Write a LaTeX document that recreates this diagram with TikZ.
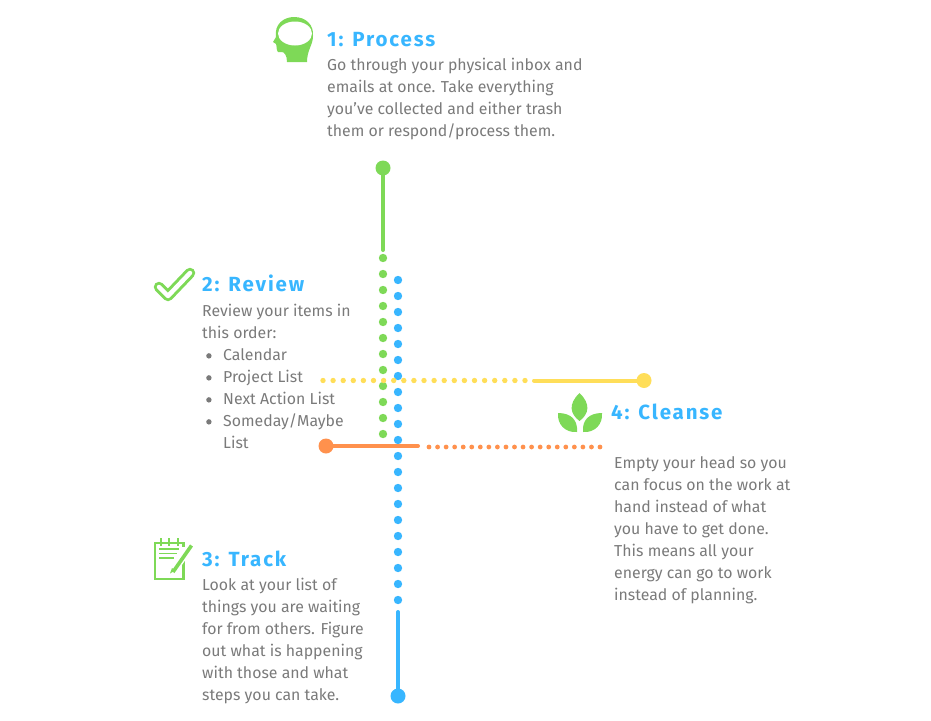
\documentclass[tikz,border=0pt]{standalone}
\usepackage{fontspec}
\setmainfont{Fira Sans}
\newfontfamily\headfont[LetterSpace=9]{Fira Sans Bold}
\definecolor{leafgreen}{HTML}{7ED957}
\definecolor{skyblue}{HTML}{38B6FF}
\definecolor{sunyellow}{HTML}{FFDE59}
\definecolor{warmorange}{HTML}{FF914D}
\definecolor{bodygray}{HTML}{7A7A7A}
\newcommand{\bul}{\makebox[21pt][l]{\hspace{4pt}\raisebox{1.5pt}{\tikz\fill (0,0) circle (2.7pt);}}}
\tikzset{
  head/.style = {anchor = base west, inner sep = 0pt, text = skyblue, font = \headfont\fontsize{20.5}{20.5}\selectfont},
  body/.style = {anchor = north west, inner sep = 0pt, align = left, text = bodygray, font = \fontsize{15.85}{22}\selectfont},
  endpt/.style = {circle, inner sep = 0pt, minimum size = #1},
  bar/.style = {line width = 4pt, line cap = round}
}
\begin{document}
\begin{tikzpicture}[x = 1pt, y = -1pt]
\useasboundingbox (0,0) rectangle (931,720);
\node[head] (t1) at (327,46.5) {1: Process};
\node[body] (b1) at (327,57.5) {Go through your physical inbox and\\emails at once. Take everything\\you've collected and either trash\\them or respond/process them.};
\node[head] (t2) at (202,291.5) {2: Review};
\node[body] (b2) at (202,303.5) {Review your items in\\this order:\\\bul Calendar\\\bul Project List\\\bul Next Action List\\\bul Someday/Maybe\\\hspace{21pt}List};
\node[head] (t3) at (202,566.5) {3: Track};
\node[body] (b3) at (202,577.5) {Look at your list of\\things you are waiting\\for from others. Figure\\out what is happening\\with those and what\\steps you can take.};
\node[head] (t4) at (611,419.5) {4: Cleanse};
\node[body] (b4) at (614,456.5) {Empty your head so you\\can focus on the work at\\hand instead of what\\you have to get done.\\This means all your\\energy can go to work\\instead of planning.};
% dotted parts
\foreach \i in {0,...,11}
  \fill[leafgreen] (383,258+16*\i) circle (4.2pt);
\foreach \i in {0,...,20}
  \fill[skyblue] (398,280+16*\i) circle (4.2pt);
\foreach \i in {0,...,20}
  \fill[sunyellow] (323+10.1*\i,380.5) circle (2.7pt);
\foreach \i in {0,...,20}
  \fill[warmorange] (429+8.55*\i,447) circle (2.4pt);
% solid parts
\node[endpt = 15pt, fill = leafgreen] (n1) at (383,168) {};
\coordinate (n1e) at (383,250);
\draw[bar, leafgreen] (n1) -- (n1e);
\node[endpt = 15pt, fill = skyblue] (n3) at (398,696) {};
\coordinate (n3e) at (398,612);
\draw[bar, skyblue] (n3) -- (n3e);
\node[endpt = 15pt, fill = sunyellow] (n2) at (644,380.5) {};
\coordinate (n2e) at (534,380.5);
\draw[bar, sunyellow] (n2) -- (n2e);
\node[endpt = 15pt, fill = warmorange] (n4) at (326,446) {};
\coordinate (n4e) at (418,446);
\draw[bar, warmorange] (n4) -- (n4e);
% head
\fill[leafgreen] (287,62) .. controls (287,55) and (284,52) .. (282,52) -- (278,52)
  .. controls (276,50) and (277,46) .. (276,44) -- (273,42) -- (276,37)
  .. controls (274,24) and (284,17) .. (294,17) .. controls (306,17) and (314,25) .. (313,36)
  .. controls (313,45) and (307,50) .. (307,62) -- cycle;
\fill[white] (295,33.5) ellipse (17pt and 12pt);
% check
\draw[leafgreen, line width = 10.5pt, line cap = round, line join = round] (159,287) -- (168,296) -- (190,273);
\draw[white, line width = 4.5pt, line cap = round, line join = round] (159,287) -- (168,296) -- (190,273);
% notepad
\draw[leafgreen, line width = 2.2pt] (182,558) -- (183.5,558) -- (183.5,579) -- (155,579) -- (155,543) -- (183.5,543) -- (183.5,547);
\foreach \xp in {161,169,178}
  \draw[leafgreen, line width = 1.8pt] (\xp,538) -- (\xp,546);
\foreach \yp/\xq in {549/179,553.5/177,558/174}
  \draw[leafgreen, line width = 1.2pt] (159,\yp) -- (\xq,\yp);
\draw[white, line width = 7pt] (172,573) -- (191,546);
\draw[leafgreen, line width = 3.6pt] (173,572) -- (191.5,545.5);
\fill[leafgreen] (170,573.5) -- (172,568) -- (175,570.5) -- cycle;
% leaves
\fill[leafgreen] (579.5,393) .. controls (568,404) and (570,414) .. (579.5,421) .. controls (589,414) and (591,404) .. (579.5,393) -- cycle;
\fill[leafgreen] (558,413) .. controls (557,424) and (565,433) .. (577,432) .. controls (578,420) and (571,413) .. (558,413) -- cycle;
\fill[leafgreen] (602,413) .. controls (603,424) and (595,433) .. (583,432) .. controls (582,420) and (589,413) .. (602,413) -- cycle;
\end{tikzpicture}
\end{document}
